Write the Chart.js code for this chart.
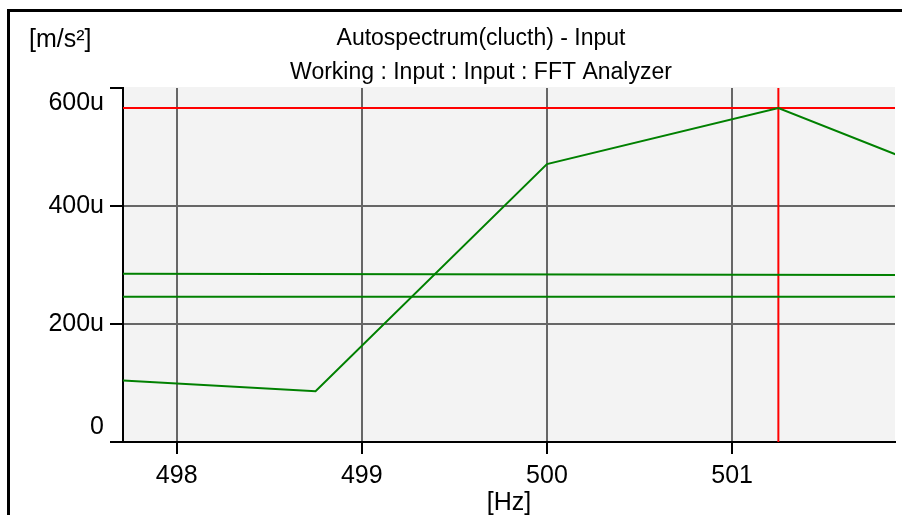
<!DOCTYPE html>
<html>
<head>
<meta charset="utf-8">
<title>Autospectrum(clucth) - Input</title>
<script src="https://cdn.jsdelivr.net/npm/chart.js@4/dist/chart.umd.min.js"></script>
<style>
  html, body { margin: 0; padding: 0; background: #fff; }
  #chart-area { display: block; }
</style>
</head>
<body>
<canvas id="chart-area" width="902" height="515"></canvas>
<script>
  // spectrum lines, frequency in Hz, amplitude in u(m/s²)
  var freqHz = [497.5, 498.75, 500, 501.25, 502.5];
  var amplitude = [108, 86, 471, 566, 411];

  // two flat levels drawn across the band
  var levelHz = [497.71, 501.88];
  var upperLevel = [285, 283];
  var lowerLevel = [246, 246];

  // cursor position
  var cursorHz = [501.25, 501.25];
  var cursorSpan = [0, 600];
  var cursorLevel = [566, 566];

  var xTicks = [498, 499, 500, 501];
  var yTicks = [0, 200, 400, 600];

  var titleLines = ['Autospectrum(clucth) - Input', 'Working : Input : Input : FFT Analyzer'];
  var yUnit = '[m/s\u00B2]';
  var xUnit = '[Hz]';

  function pairs(xs, ys) {
    return xs.map(function (x, i) { return { x: x, y: ys[i] }; });
  }

  var fontFamily = '"Liberation Sans", Arial, sans-serif';
  Chart.defaults.font.family = fontFamily;
  Chart.defaults.color = '#000';

  var framePlugin = {
    id: 'frame',
    beforeDraw: function (chart) {
      var ctx = chart.ctx, a = chart.chartArea;
      ctx.save();
      ctx.fillStyle = '#fff';
      ctx.fillRect(0, 0, chart.width, chart.height);
      ctx.fillStyle = '#f3f3f3';
      ctx.fillRect(a.left, a.top - 1, a.right - a.left, a.bottom - a.top + 1);
      ctx.restore();
    },
    afterDraw: function (chart) {
      var ctx = chart.ctx;
      ctx.save();
      // outer frame (left and top only are visible)
      ctx.fillStyle = '#000';
      ctx.fillRect(7, 9, 3, chart.height - 9);
      ctx.fillRect(7, 9, chart.width - 7, 3);

      ctx.textBaseline = 'alphabetic';
      ctx.font = '23px ' + fontFamily;
      ctx.textAlign = 'center';
      ctx.fillText(titleLines[0], 481, 45);
      ctx.fillText(titleLines[1], 481, 79);

      ctx.font = '25px ' + fontFamily;
      ctx.textAlign = 'left';
      ctx.fillText(yUnit, 29, 47);
      ctx.restore();
    }
  };

  var ctx = document.getElementById('chart-area').getContext('2d');
  window.spectrumChart = new Chart(ctx, {
    type: 'line',
    data: {
      datasets: [
        {
          data: pairs(levelHz, upperLevel),
          borderColor: '#008000',
          borderWidth: 2,
          pointRadius: 0
        },
        {
          data: pairs(levelHz, lowerLevel),
          borderColor: '#008000',
          borderWidth: 2,
          pointRadius: 0
        },
        {
          data: pairs(freqHz, amplitude),
          borderColor: '#008000',
          borderWidth: 2,
          pointRadius: 0,
          tension: 0
        },
        {
          data: pairs(cursorHz, cursorSpan),
          borderColor: '#ff0000',
          borderWidth: 2,
          pointRadius: 0
        },
        {
          data: pairs(levelHz, cursorLevel),
          borderColor: '#ff0000',
          borderWidth: 2,
          pointRadius: 0
        }
      ]
    },
    options: {
      responsive: false,
      animation: false,
      devicePixelRatio: 1,
      layout: { padding: { left: 0, top: 88, right: 7, bottom: 0 } },
      plugins: {
        legend: { display: false },
        tooltip: { enabled: false }
      },
      scales: {
        x: {
          type: 'linear',
          min: 497.71,
          max: 501.88,
          afterBuildTicks: function (scale) {
            scale.ticks = xTicks.map(function (v) { return { value: v }; });
          },
          afterFit: function (scale) { scale.height = 73; },
          ticks: {
            font: { size: 25 },
            padding: 7,
            maxRotation: 0,
            includeBounds: false
          },
          grid: {
            color: '#666',
            lineWidth: 2,
            tickColor: '#000',
            tickLength: 12,
            tickWidth: 2
          },
          border: { color: '#000', width: 2 },
          title: {
            display: true,
            text: xUnit,
            font: { size: 25 },
            padding: { top: 0, bottom: -3 }
          }
        },
        y: {
          min: 0,
          max: 600,
          afterBuildTicks: function (scale) {
            scale.ticks = yTicks.map(function (v) { return { value: v }; });
          },
          afterFit: function (scale) { scale.width = 123; },
          ticks: {
            font: { size: 25, lineHeight: 1.2 },
            padding: 6,
            callback: function (v) {
              var s = v === 0 ? '0' : v + 'u';
              if (v === yTicks[0]) return [s, ''];
              if (v === yTicks[yTicks.length - 1]) return ['', s];
              return s;
            }
          },
          grid: {
            color: function (c) {
              var v = c.tick ? c.tick.value : null;
              return (v === 0 || v === 600) ? 'rgba(0,0,0,0)' : '#666';
            },
            lineWidth: 2,
            tickColor: '#000',
            tickLength: 13,
            tickWidth: 2
          },
          border: { color: '#000', width: 2 }
        }
      }
    },
    plugins: [framePlugin]
  });
</script>
</body>
</html>
